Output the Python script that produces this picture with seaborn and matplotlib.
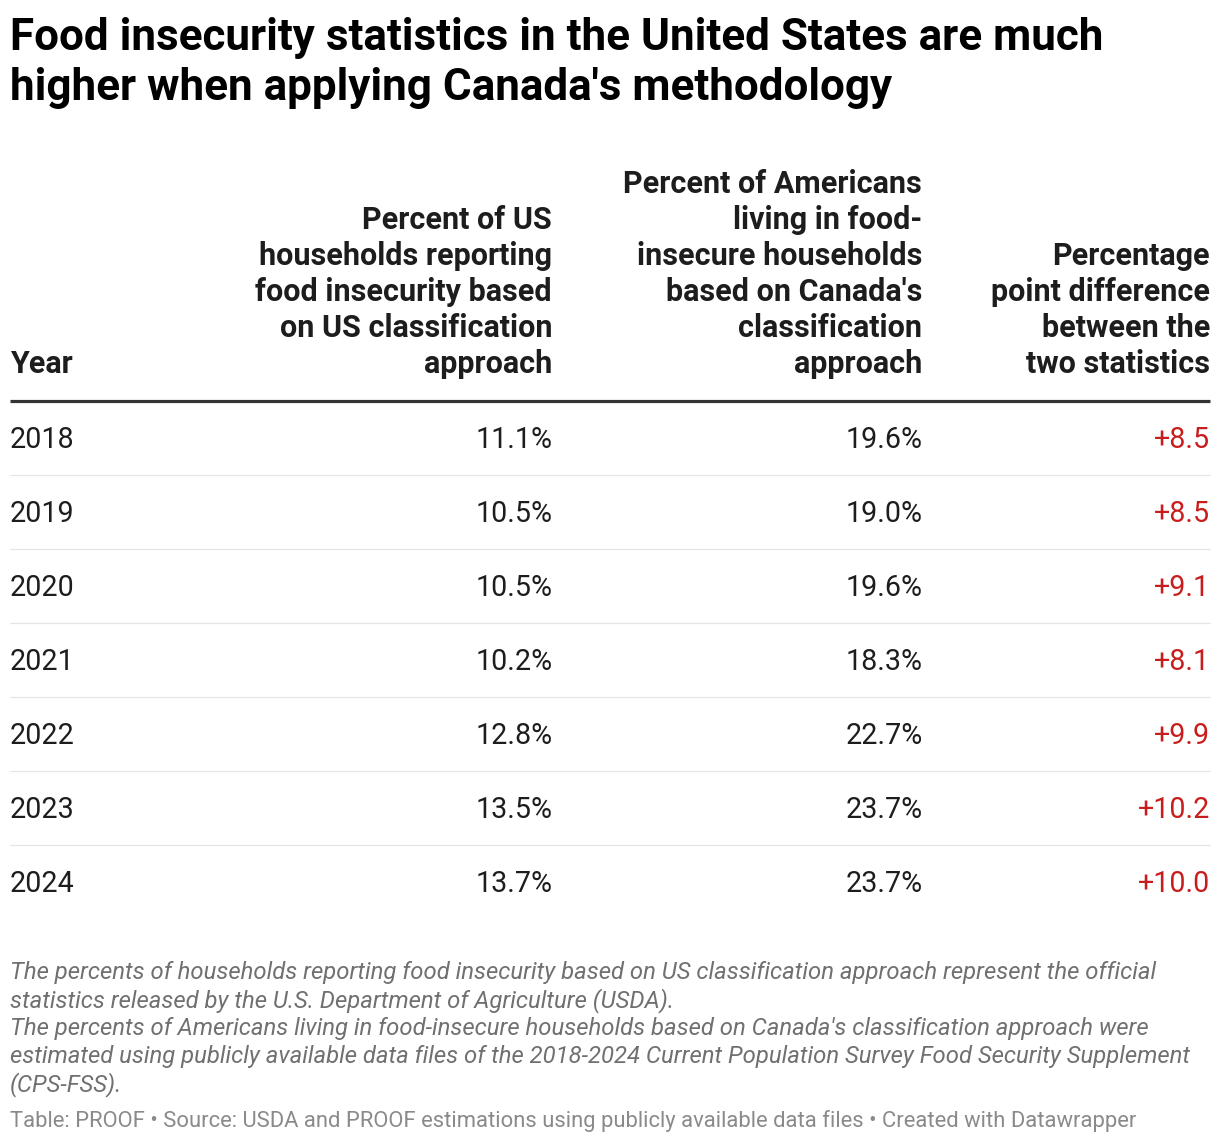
import matplotlib
matplotlib.use("Agg")
import matplotlib.pyplot as plt
import seaborn as sns

# ---- data ----
years = ["2018", "2019", "2020", "2021", "2022", "2023", "2024"]
us_pct = [11.1, 10.5, 10.5, 10.2, 12.8, 13.5, 13.7]
ca_pct = [19.6, 19.0, 19.6, 18.3, 22.7, 23.7, 23.7]
diff_pp = [8.5, 8.5, 9.1, 8.1, 9.9, 10.2, 10.0]

col_headers = [
    ["Year"],
    ["Percent of US", "households reporting", "food insecurity based", "on US classification", "approach"],
    ["Percent of Americans", "living in food-", "insecure households", "based on Canada's", "classification", "approach"],
    ["Percentage", "point difference", "between the", "two statistics"],
]
title_lines = ["Food insecurity statistics in the United States are much",
               "higher when applying Canada's methodology"]
notes = [
    "The percents of households reporting food insecurity based on US classification approach represent the official",
    "statistics released by the U.S. Department of Agriculture (USDA).",
    "The percents of Americans living in food-insecure households based on Canada's classification approach were",
    "estimated using publicly available data files of the 2018-2024 Current Population Survey Food Security Supplement",
    "(CPS-FSS).",
]
source = "Table: PROOF \u2022 Source: USDA and PROOF estimations using publicly available data files \u2022 Created with Datawrapper"

# ---- style ----
sns.set_theme(style="white")
plt.rcParams["font.family"] = ["Roboto", "DejaVu Sans"]

W, H = 1220, 1144
fig = plt.figure(figsize=(W / 100, H / 100), dpi=100)
ax = fig.add_axes([0, 0, 1, 1])
ax.set_xlim(0, W)
ax.set_ylim(H, 0)
ax.axis("off")

TXT = "#1d1d1d"
RED = "#c71e1d"

# title
for i, line in enumerate(title_lines):
    ax.text(10, 50 + i * 50, line, fontsize=31.7, fontweight="bold", color="#000000",
            ha="left", va="baseline")

# headers
col_x = [10, 552, 922, 1210]
col_ha = ["left", "right", "right", "right"]
hdr_base = 373
hdr_step = 36
for x, ha, lines in zip(col_x, col_ha, col_headers):
    n = len(lines)
    for j, line in enumerate(lines):
        ax.text(x, hdr_base - (n - 1 - j) * hdr_step, line, fontsize=22,
                fontweight="bold", color=TXT, ha=ha, va="baseline")

# thick rule
ax.plot([10, 1210], [400.5, 400.5], color="#333333", lw=2.3, solid_capstyle="butt")

# rows
row_base0 = 447.5
row_step = 74
bx = [10, 553, 923, 1210]
for i in range(len(years)):
    yb = row_base0 + i * row_step
    ax.text(bx[0], yb, years[i], fontsize=20.6, color=TXT, ha="left", va="baseline")
    ax.text(bx[1], yb, f"{us_pct[i]:.1f}%", fontsize=20.6, color=TXT, ha="right", va="baseline")
    ax.text(bx[2], yb, f"{ca_pct[i]:.1f}%", fontsize=20.6, color=TXT, ha="right", va="baseline")
    ax.text(bx[3], yb, f"+{diff_pp[i]:.1f}", fontsize=20.6, color=RED, ha="right", va="baseline")
    if i < len(years) - 1:
        ax.plot([10, 1210], [yb + 27.5, yb + 27.5], color="#e6e6e6", lw=0.9)

# notes
for k, line in enumerate(notes):
    ax.text(10, 979 + k * 28, line, fontsize=17.2, fontstyle="italic", color="#707070",
            ha="left", va="baseline")

ax.text(10, 1127, source, fontsize=15.85, color="#8a8a8a", ha="left", va="baseline")

fig.savefig("out.png", dpi=100, facecolor="white")
